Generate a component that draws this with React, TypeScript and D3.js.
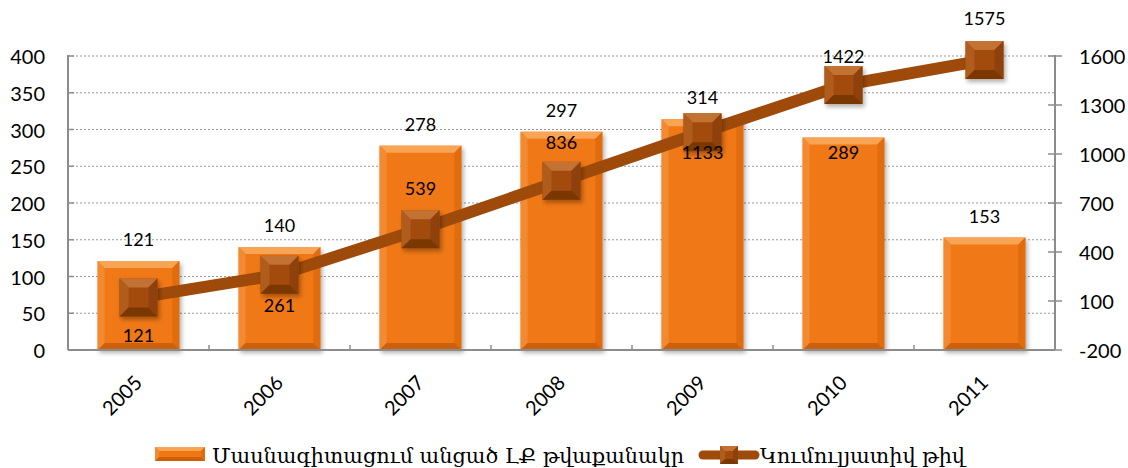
import React from "react";
import * as d3 from "d3";

const years = ["2005", "2006", "2007", "2008", "2009", "2010", "2011"];
const trained = [121, 140, 278, 297, 314, 289, 153];
const cumulative = [121, 261, 539, 836, 1133, 1422, 1575];
const leftTicks = [0, 50, 100, 150, 200, 250, 300, 350, 400];
const rightTicks = [-200, 100, 400, 700, 1000, 1300, 1600];
const barLabelPlace = ["above", "above", "above", "above", "above", "inside", "above"];
const lineLabelDy = [37, 30, -41, -39, 20, -29, -42];

const seriesNames = ["Մասնագիտացում անցած  ԼՔ թվաքանակր", "Կումուլյատիվ թիվ"];

const W = 1128;
const H = 468;
const margin = { top: 56, right: 73, bottom: 118, left: 68 };
const font = "Lato, 'Open Sans', 'DejaVu Sans', sans-serif";
const armFont = "'DejaVu Serif', 'Noto Sans', serif";

const x = d3
  .scaleBand()
  .domain(years)
  .range([margin.left, W - margin.right])
  .paddingInner(0.42)
  .paddingOuter(0.21);
const yL = d3.scaleLinear().domain([0, 400]).range([H - margin.bottom, margin.top]);
const yR = d3.scaleLinear().domain([-200, 1600]).range([H - margin.bottom, margin.top]);

// bevelled box, like excel's "angle" shape effect
const Bevel = ({ x0, y0, w, h, b, c }) => {
  const x1 = x0 + w;
  const y1 = y0 + h;
  const pts = (a) => a.map((p) => p.join(",")).join(" ");
  return (
    <g>
      <rect x={x0} y={y0} width={w} height={h} fill={c.face} />
      <polygon points={pts([[x0, y0], [x1, y0], [x1 - b, y0 + b], [x0 + b, y0 + b]])} fill={c.top} />
      <polygon points={pts([[x0, y0], [x0 + b, y0 + b], [x0 + b, y1 - b], [x0, y1]])} fill={c.left} />
      <polygon points={pts([[x1, y0], [x1, y1], [x1 - b, y1 - b], [x1 - b, y0 + b]])} fill={c.right} />
      <polygon points={pts([[x0, y1], [x0 + b, y1 - b], [x1 - b, y1 - b], [x1, y1]])} fill={c.bottom} />
    </g>
  );
};

const barColors = { face: "#F07812", top: "#F8A455", left: "#F28A30", right: "#E06C0E", bottom: "#CC600A" };
const markColors = { face: "#A34B0B", top: "#C27232", left: "#B05C1C", right: "#8E4108", bottom: "#7A3806" };

export default function App() {
  const y0 = yL(0);
  const bw = x.bandwidth();
  const cx = (d) => x(d) + bw / 2;
  const ms = 38;

  const line = d3
    .line()
    .x((d, i) => cx(years[i]))
    .y((d) => yR(d));

  return (
    <svg width={W} height={H} style={{ position: "absolute", left: 0, top: 0, background: "#fff" }}>
      <defs>
        <filter id="sh" x="-20%" y="-20%" width="140%" height="140%">
          <feDropShadow dx="2" dy="3" stdDeviation="2" floodColor="#000" floodOpacity="0.3" />
        </filter>
      </defs>

      {/* grid */}
      {leftTicks.slice(1).map((t) => (
        <line key={t} x1={margin.left} x2={W - margin.right} y1={yL(t)} y2={yL(t)} stroke="#999" strokeDasharray="2,2" strokeWidth={1.2} />
      ))}

      {/* bars */}
      {trained.map((v, i) => (
        <g key={i} filter="url(#sh)">
          <Bevel x0={x(years[i])} y0={yL(v)} w={bw} h={y0 - yL(v)} b={7} c={barColors} />
        </g>
      ))}

      {/* axes */}
      <line x1={margin.left} x2={margin.left} y1={margin.top - 1} y2={y0} stroke="#8c8c8c" strokeWidth={2} />
      <line x1={W - margin.right} x2={W - margin.right} y1={margin.top - 1} y2={y0} stroke="#8c8c8c" strokeWidth={2} />
      <line x1={margin.left} x2={W - margin.right} y1={y0} y2={y0} stroke="#8c8c8c" strokeWidth={2} />
      {leftTicks.map((t) => (
        <g key={t}>
          <line x1={margin.left} x2={margin.left + 6} y1={yL(t)} y2={yL(t)} stroke="#8c8c8c" strokeWidth={1.5} />
          <text x={45} y={yL(t)} textAnchor="end" dominantBaseline="central" fontFamily={font} fontSize={20} fill="#000">
            {t}
          </text>
        </g>
      ))}
      {rightTicks.map((t) => (
        <g key={t}>
          <line x1={W - margin.right - 7} x2={W - margin.right + 7} y1={yR(t)} y2={yR(t)} stroke="#8c8c8c" strokeWidth={1.5} />
          <text x={1079} y={yR(t)} textAnchor="start" dominantBaseline="central" fontFamily={font} fontSize={20} fill="#000">
            {t}
          </text>
        </g>
      ))}
      {years.slice(1).map((yr) => (
        <line key={yr} x1={x(yr) - (x.step() - bw) / 2} x2={x(yr) - (x.step() - bw) / 2} y1={y0 - 5} y2={y0} stroke="#8c8c8c" strokeWidth={1.5} />
      ))}
      {years.map((yr) => (
        <text
          key={yr}
          transform={`translate(${cx(yr) + 5},${y0 + 34}) rotate(-45)`}
          textAnchor="end"
          fontFamily={font}
          fontSize={20}
          fill="#000"
        >
          {yr}
        </text>
      ))}

      {/* cumulative line */}
      <path d={line(cumulative)} fill="none" stroke="#9E4A0A" strokeWidth={12} />
      {cumulative.map((v, i) => (
        <g key={i} filter="url(#sh)">
          <Bevel x0={cx(years[i]) - ms / 2} y0={yR(v) - ms / 2} w={ms} h={ms} b={9} c={markColors} />
        </g>
      ))}

      {/* labels */}
      {trained.map((v, i) => (
        <text
          key={i}
          x={cx(years[i])}
          y={barLabelPlace[i] === "above" ? yL(v) - 22 : yL(v) + 14}
          textAnchor="middle"
          dominantBaseline="central"
          fontFamily={font}
          fontSize={18}
          fill="#000"
        >
          {v}
        </text>
      ))}
      {cumulative.map((v, i) => (
        <text
          key={i}
          x={cx(years[i])}
          y={yR(v) + lineLabelDy[i]}
          textAnchor="middle"
          dominantBaseline="central"
          fontFamily={font}
          fontSize={18}
          fill="#000"
        >
          {v}
        </text>
      ))}

      {/* legend */}
      <g>
        <Bevel x0={155} y0={447} w={50} h={14} b={4} c={barColors} />
        <text x={212} y={463} fontFamily={armFont} fontSize={20} fill="#000" textLength={472} lengthAdjust="spacingAndGlyphs">
          {seriesNames[0]}
        </text>
        <line x1={703} x2={755} y1={455} y2={455} stroke="#9E4A0A" strokeWidth={9} strokeLinecap="round" />
        <Bevel x0={720} y0={446} w={18} h={18} b={5} c={markColors} />
        <text x={760} y={463} fontFamily={armFont} fontSize={20} fill="#000" textLength={205} lengthAdjust="spacingAndGlyphs">
          {seriesNames[1]}
        </text>
      </g>
    </svg>
  );
}
